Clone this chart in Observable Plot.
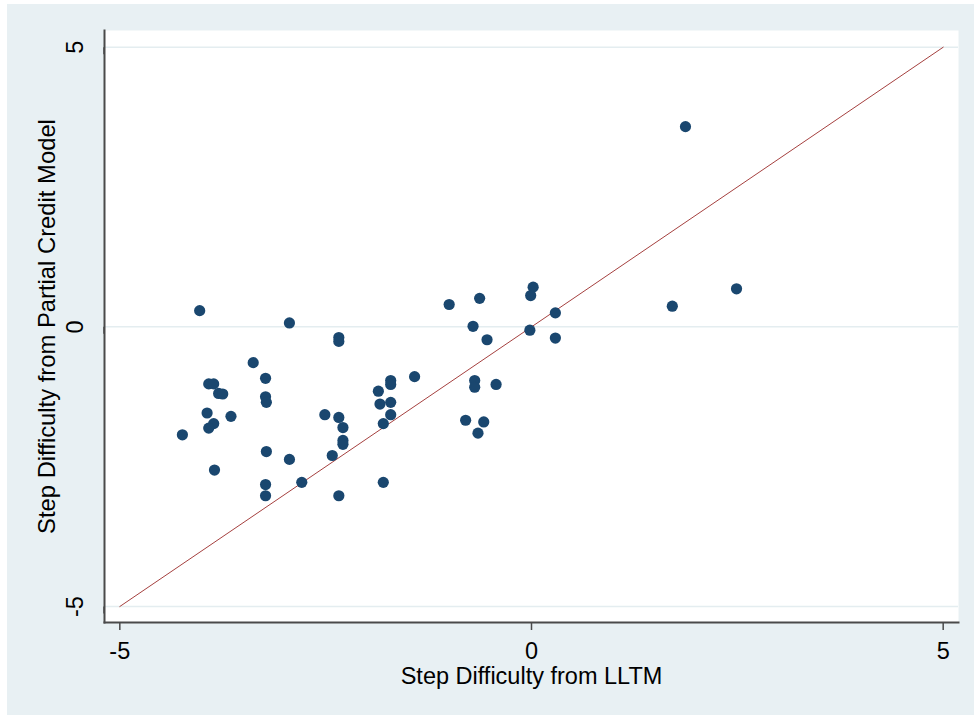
<!DOCTYPE html>
<html><head><meta charset="utf-8">
<script src="https://cdn.jsdelivr.net/npm/d3@7"></script>
<script src="https://cdn.jsdelivr.net/npm/@observablehq/plot@0.6"></script>
<style>
html,body{margin:0;padding:0;background:#fff;overflow:hidden;}
#chart{position:absolute;left:7px;top:4px;width:967px;height:711px;background:#e8f0f3;}
</style></head><body><div id="chart"></div>
<script>
// Step difficulty from LLTM (x) and from Partial Credit Model (y)
const lltm = [-4.03,-2.94,-2.34,-2.34,-3.38,-3.23,-3.92,-3.86,-3.80,-3.75,
              -3.23,-3.22,-3.94,-3.65,-3.86,-3.92,-4.24,-2.51,-2.34,-2.29,
              -2.29,-2.29,-3.22,-2.94,-2.42,-3.85,-2.79,-3.23,-3.23,-2.34,
              -1.42,-1.71,-1.71,-1.86,-1.84,-1.71,-1.71,-1.80,-1.80,-1.00,
              -0.63,0.02,-0.01,0.29,-0.71,-0.02,-0.54,0.29,-0.69,-0.69,
              -0.43,-0.80,-0.58,-0.65,1.87,2.49,1.71];
const pcm  = [0.29,0.07,-0.19,-0.26,-0.64,-0.92,-1.02,-1.02,-1.19,-1.20,
              -1.25,-1.35,-1.54,-1.60,-1.73,-1.81,-1.93,-1.57,-1.62,-1.80,
              -2.03,-2.10,-2.23,-2.37,-2.30,-2.56,-2.78,-2.82,-3.02,-3.02,
              -0.89,-0.96,-1.03,-1.15,-1.38,-1.35,-1.57,-1.73,-2.78,0.40,
              0.51,0.71,0.56,0.25,0.01,-0.06,-0.23,-0.20,-0.96,-1.08,
              -1.03,-1.67,-1.70,-1.90,3.58,0.68,0.37];
const xTicks = [-5, 0, 5];
const yTicks = [-5, 0, 5];
const refLine = [-5, 5];
const xTitle = "Step Difficulty from LLTM";
const yTitle = "Step Difficulty from Partial Credit Model";

const points = lltm.map((x, i) => ({x, y: pcm[i]}));
const lineData = refLine.map(v => ({x: v, y: v}));
const font = "'Liberation Sans', Arial, sans-serif";
const fs = 23.5;

const chart = Plot.plot({
  width: 967, height: 711,
  marginLeft: 97, marginRight: 16, marginTop: 26, marginBottom: 93,
  style: {background: "transparent", fontFamily: font, color: "#000"},
  x: {domain: [-5.186, 5.186]},
  y: {domain: [-5.286, 5.299]},
  marks: [
    Plot.frame({fill: "white", stroke: null}),
    Plot.ruleY(yTicks, {stroke: "#e4edf0", strokeWidth: 1.5}),
    Plot.line(lineData, {x: "x", y: "y", stroke: "#a5403f", strokeWidth: 1}),
    Plot.dot(points, {x: "x", y: "y", r: 5.6, fill: "#1a476f", stroke: null}),
    Plot.frame({anchor: "left", stroke: "#4a4a4a", strokeWidth: 2}),
    Plot.frame({anchor: "bottom", stroke: "#4a4a4a", strokeWidth: 2}),
    Plot.axisX({ticks: xTicks, tickSize: 8, tickPadding: 12, fontSize: fs,
                tickFormat: d => String(d), label: null, stroke: "#4a4a4a", strokeWidth: 1.5}),
    Plot.axisY({ticks: yTicks, tickSize: 7, tickPadding: 15, fontSize: fs,
                tickFormat: d => String(d), label: null, rotate: -90,
                textAnchor: "middle", lineAnchor: "bottom", stroke: "#4a4a4a", strokeWidth: 1.5}),
    Plot.text([xTitle], {text: d => d, frameAnchor: "bottom", dy: 61,
                textAnchor: "middle", lineAnchor: "bottom", fontSize: fs}),
    Plot.text([yTitle], {text: d => d, frameAnchor: "left", dx: -50, rotate: -90,
                textAnchor: "middle", lineAnchor: "bottom", fontSize: 23.8})
  ]
});
document.getElementById("chart").appendChild(chart);
</script></body></html>
